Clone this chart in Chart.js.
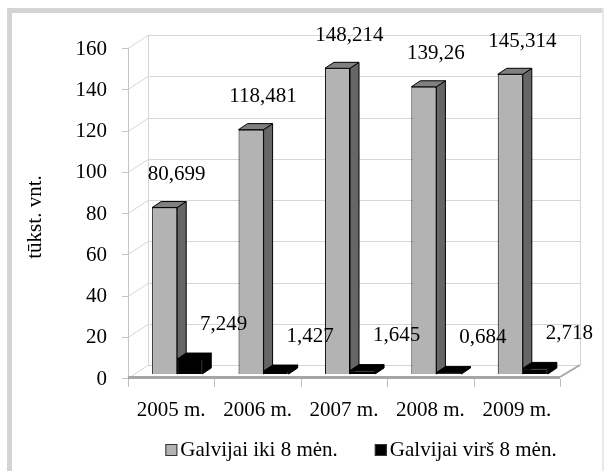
<!DOCTYPE html>
<html>
<head>
<meta charset="utf-8">
<script src="https://cdn.jsdelivr.net/npm/chart.js@4"></script>
<style>
  html, body { margin: 0; padding: 0; background: #fff; }
  #wrap { position: relative; width: 607px; height: 471px; }
</style>
</head>
<body>
<div id="wrap"><canvas id="chart_gyvuliai" width="607" height="471"></canvas></div>
<script>
// duomenys
var years = ['2005 m.', '2006 m.', '2007 m.', '2008 m.', '2009 m.'];
var ikiAstuoniu = [80.699, 118.481, 148.214, 139.26, 145.314];
var virsAstuoniu = [7.249, 1.427, 1.645, 0.684, 2.718];
var seriesNames = ['Galvijai iki 8 mėn.', 'Galvijai virš 8 mėn.'];
var yMax = 160;
var yStep = 20;
var yTitle = 'tūkst. vnt.';

var FONT = '"Liberation Serif", "Times New Roman", serif';
Chart.defaults.font.family = FONT;
Chart.defaults.font.size = 21;
Chart.defaults.color = '#000';

// 3d offsets (from the bar front plane)
var WALL = {dx: 14, dy: -9};
var FRONT = {dx: -6, dy: 4};
var DEPTH = {dx: 9, dy: -6};

var faceColors = [
  {front: '#b3b3b3', top: '#808080', side: '#666666'},
  {front: '#000000', top: '#000000', side: '#000000'}
];
var labelShift = [{x: 12, y: -33}, {x: 34, y: -35}];

function fmt(v) {
  return String(v).replace('.', ',');
}

function poly(c, pts, fill, stroke) {
  c.beginPath();
  c.moveTo(pts[0][0], pts[0][1]);
  for (var i = 1; i < pts.length; i++) c.lineTo(pts[i][0], pts[i][1]);
  c.closePath();
  c.fillStyle = fill;
  c.fill();
  if (stroke) { c.strokeStyle = stroke; c.stroke(); }
}

var chart3d = {
  id: 'chart3d',
  beforeDraw: function(chart) {
    var c = chart.ctx;
    c.save();
    c.fillStyle = '#d4d4d4';
    c.fillRect(7, 8, 597, 5);
    c.fillRect(7, 8, 5, 463);
    c.fillStyle = '#e8e8e8';
    c.fillRect(602, 8, 2, 463);
    c.restore();
  },
  beforeDatasetsDraw: function(chart) {
    var c = chart.ctx, ca = chart.chartArea, ys = chart.scales.y;
    var bl = ca.left + WALL.dx, br = ca.right + WALL.dx;
    var fl = ca.left + FRONT.dx, fr = ca.right + FRONT.dx;
    var yTop = ys.getPixelForValue(yMax), yBase = ys.getPixelForValue(0);
    c.save();
    c.lineWidth = 1;

    // back wall + side wall gridlines
    c.strokeStyle = '#d6d6d6';
    c.beginPath();
    ys.ticks.forEach(function(t) {
      var y = Math.round(ys.getPixelForValue(t.value)) + 0.5;
      c.moveTo(fl, y + FRONT.dy);
      c.lineTo(bl, y + WALL.dy);
      c.lineTo(br, y + WALL.dy);
    });
    c.moveTo(bl + 0.5, yTop + WALL.dy);
    c.lineTo(bl + 0.5, yBase + WALL.dy);
    c.moveTo(br + 0.5, yTop + WALL.dy);
    c.lineTo(br + 0.5, yBase + WALL.dy);
    c.stroke();

    // front vertical axis with ticks
    c.strokeStyle = '#c4c4c4';
    c.beginPath();
    c.moveTo(fl + 0.5, yTop + FRONT.dy);
    c.lineTo(fl + 0.5, yBase + FRONT.dy);
    ys.ticks.forEach(function(t) {
      var y = Math.round(ys.getPixelForValue(t.value)) + 0.5 + FRONT.dy;
      c.moveTo(fl - 6, y);
      c.lineTo(fl, y);
    });
    c.stroke();

    // floor edge
    c.fillStyle = '#a6a6a6';
    c.fillRect(fl, yBase + FRONT.dy - 2, fr - fl, 3);
    c.strokeStyle = '#a6a6a6';
    c.lineWidth = 2;
    c.beginPath();
    c.moveTo(fr, yBase + FRONT.dy - 1);
    c.lineTo(br, yBase + WALL.dy);
    c.stroke();

    // category ticks
    c.lineWidth = 1;
    c.strokeStyle = '#bdbdbd';
    var step = (fr - fl) / years.length;
    c.beginPath();
    for (var i = 0; i <= years.length; i++) {
      var x = Math.round(fl + i * step) + 0.5;
      c.moveTo(x, yBase + FRONT.dy + 1);
      c.lineTo(x, yBase + FRONT.dy + 9);
    }
    c.stroke();

    // bar tops and sides
    c.lineWidth = 1;
    chart.data.datasets.forEach(function(ds, di) {
      var meta = chart.getDatasetMeta(di);
      var col = faceColors[di];
      meta.data.forEach(function(el) {
        var p = el.getProps(['x', 'y', 'base', 'width'], true);
        var l = p.x - p.width / 2, r = p.x + p.width / 2;
        poly(c, [[r, p.y], [r + DEPTH.dx, p.y + DEPTH.dy], [r + DEPTH.dx, p.base + DEPTH.dy], [r, p.base]], col.side, '#000');
        poly(c, [[l, p.y], [l + DEPTH.dx, p.y + DEPTH.dy], [r + DEPTH.dx, p.y + DEPTH.dy], [r, p.y]], col.top, '#000');
      });
    });
    c.restore();
  },
  afterDatasetsDraw: function(chart) {
    var c = chart.ctx;
    c.save();
    c.font = '21px ' + FONT;
    c.fillStyle = '#000';
    c.textAlign = 'center';
    c.textBaseline = 'middle';
    chart.data.datasets.forEach(function(ds, di) {
      var meta = chart.getDatasetMeta(di);
      meta.data.forEach(function(el, i) {
        var p = el.getProps(['x', 'y'], true);
        c.fillText(fmt(ds.data[i]), p.x + labelShift[di].x, p.y + labelShift[di].y);
      });
    });
    c.restore();
  },
  afterDraw: function(chart) {
    var c = chart.ctx;
    c.save();
    c.font = '21px ' + FONT;
    c.textBaseline = 'middle';

    // y title
    c.save();
    c.translate(35, 217);
    c.rotate(-Math.PI / 2);
    c.textAlign = 'center';
    c.fillStyle = '#000';
    c.fillText(yTitle, 0, 0);
    c.restore();

    // legend
    var box = 12, gapText = 3, gapItem = 37;
    var items = chart.data.datasets.map(function(d) {
      return {label: d.label, color: d.backgroundColor, w: c.measureText(d.label).width};
    });
    var total = 0;
    items.forEach(function(it, i) { total += box + gapText + it.w + (i ? gapItem : 0); });
    var x = 361 - total / 2, y = 450;
    c.textAlign = 'left';
    items.forEach(function(it) {
      c.fillStyle = it.color;
      c.fillRect(x, y - 6, box, box);
      c.strokeStyle = '#333';
      c.lineWidth = 1;
      c.strokeRect(x + 0.5, y - 5.5, box - 1, box - 1);
      x += box + gapText;
      c.fillStyle = '#000';
      c.fillText(it.label, x, y);
      x += it.w + gapItem;
    });
    c.restore();
  }
};

var ctx = document.getElementById('chart_gyvuliai').getContext('2d');
var chart = new Chart(ctx, {
  type: 'bar',
  data: {
    labels: years,
    datasets: [
      {
        label: seriesNames[0],
        data: ikiAstuoniu,
        backgroundColor: faceColors[0].front,
        borderColor: '#000',
        borderWidth: 1
      },
      {
        label: seriesNames[1],
        data: virsAstuoniu,
        backgroundColor: faceColors[1].front,
        borderColor: '#000',
        borderWidth: 1
      }
    ]
  },
  options: {
    responsive: false,
    animation: false,
    events: [],
    datasets: {
      bar: { barPercentage: 1, categoryPercentage: 0.58 }
    },
    layout: {
      padding: { left: 0, top: 44, right: 41, bottom: 47 }
    },
    plugins: {
      legend: { display: false },
      title: { display: false },
      tooltip: { enabled: false }
    },
    scales: {
      x: {
        grid: { display: false, drawTicks: false },
        border: { display: false },
        ticks: { padding: 24, labelOffset: -6, maxRotation: 0, autoSkip: false },
        afterFit: function(s) { s.height = 50; }
      },
      y: {
        min: 0,
        max: yMax,
        grid: { display: false, drawTicks: false },
        border: { display: false },
        ticks: { stepSize: yStep, padding: 27, labelOffset: 5 },
        afterFit: function(s) { s.width = 134; }
      }
    }
  },
  plugins: [chart3d]
});
</script>
</body>
</html>
